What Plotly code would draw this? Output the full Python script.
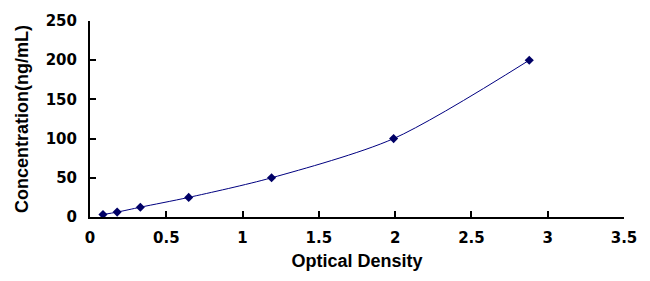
import plotly.graph_objects as go

od = [0.085, 0.178, 0.33, 0.647, 1.19, 1.99, 2.879]
conc = [3.125, 6.25, 12.5, 25, 50, 100, 200]
x_ticks = [0, 0.5, 1, 1.5, 2, 2.5, 3, 3.5]
x_tick_labels = ["0", "0.5", "1", "1.5", "2", "2.5", "3", "3.5"]
y_ticks = [0, 50, 100, 150, 200, 250]
y_tick_labels = ["0", "50", "100", "150", "200", "250"]

FAM = "Liberation Sans, Arial, sans-serif"
TICKFAM = "DejaVu Sans, Liberation Sans, sans-serif"

fig = go.Figure()
fig.add_trace(go.Scatter(
    x=od, y=conc, mode="lines+markers",
    line=dict(color="#000080", width=1, shape="spline", smoothing=0.8),
    marker=dict(symbol="diamond", size=7, color="#000066"),
    showlegend=False,
))

fig.update_layout(
    width=650, height=281,
    margin=dict(l=90, r=26, t=16, b=64),
    paper_bgcolor="white", plot_bgcolor="white",
    font=dict(family=FAM, size=16, color="black", weight=700),
)
fig.update_xaxes(
    range=[0, 3.5], tickvals=x_ticks, ticktext=x_tick_labels,
    showline=True, linecolor="black", linewidth=2,
    ticks="inside", ticklen=6, tickwidth=2, tickcolor="black",
    showgrid=False, zeroline=False,
    tickfont=dict(family=TICKFAM, size=15, color="black", weight=700),
    ticklabelstandoff=6,
    title=dict(text="Optical Density", standoff=8,
               font=dict(family=FAM, size=18, color="black", weight="bold")),
)
fig.update_yaxes(
    range=[0, 250], tickvals=y_ticks, ticktext=y_tick_labels,
    showline=True, linecolor="black", linewidth=2,
    ticks="inside", ticklen=6, tickwidth=2, tickcolor="black",
    showgrid=False, zeroline=False,
    tickfont=dict(family=TICKFAM, size=15, color="black", weight=700),
    ticklabelstandoff=8,
    title=dict(text="Concentration(ng/mL)", standoff=12,
               font=dict(family=FAM, size=18, color="black", weight="bold")),
)

fig.write_html("out.html")
